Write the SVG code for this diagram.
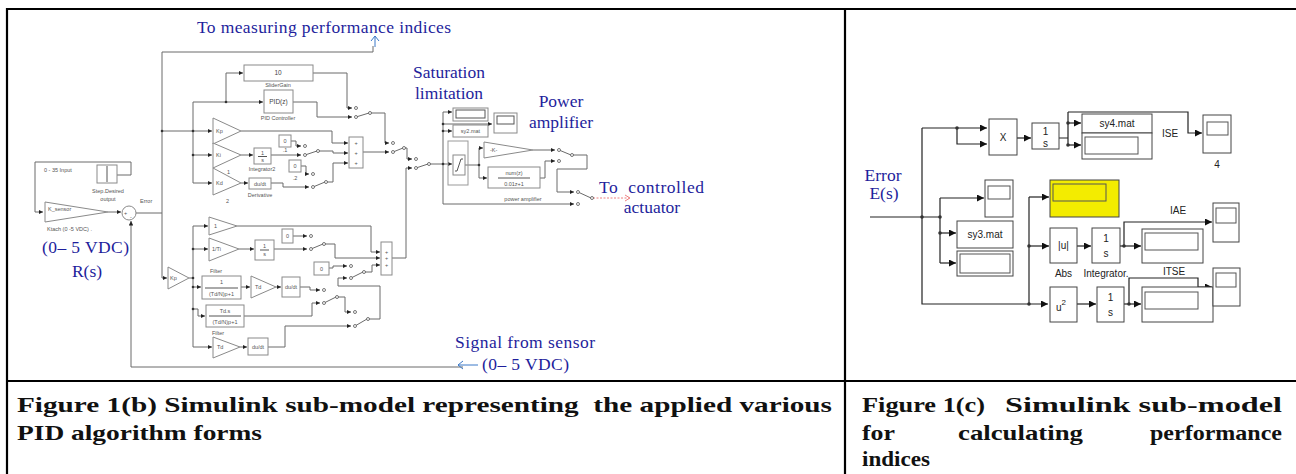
<svg xmlns="http://www.w3.org/2000/svg" width="1296" height="474" viewBox="0 0 1296 474">
<defs>
<marker id="a" viewBox="0 0 6 6" refX="6" refY="3" markerWidth="4.5" markerHeight="4.5" markerUnits="userSpaceOnUse" orient="auto"><path d="M0,0L6,3L0,6z" fill="#222"/></marker>
<marker id="A" viewBox="0 0 6 6" refX="6" refY="3" markerWidth="7" markerHeight="7" markerUnits="userSpaceOnUse" orient="auto"><path d="M0,0L6,3L0,6z" fill="#111"/></marker>
</defs>
<style>
.w{fill:none;stroke:#6a6a6a;stroke-width:1}
.wc{fill:none;stroke:#222;stroke-width:1.2}
.b{fill:#fff;stroke:#8a8a8a;stroke-width:1}
.bc{fill:#fff;stroke:#444;stroke-width:1}
.in{fill:none;stroke:#555;stroke-width:1}
.s{font-family:"Liberation Sans",Arial,sans-serif;font-size:5.5px;fill:#555}
.sm{font-family:"Liberation Sans",Arial,sans-serif;font-size:6.5px;fill:#444;text-anchor:middle}
.c{font-family:"Liberation Sans",Arial,sans-serif;font-size:10px;fill:#222;text-anchor:middle}
.bl{font-family:"Liberation Serif","Times New Roman",serif;font-size:17.5px;fill:#1e1e9c}
.cap{font-family:"Liberation Serif","Times New Roman",serif;font-size:21px;font-weight:bold;fill:#111;white-space:pre}
.sw{fill:#fff;stroke:#555;stroke-width:0.8}
.d{fill:#333}
.tb{stroke:#000;stroke-width:2.2;fill:none}
</style>
<rect width="1296" height="474" fill="#fff"/>

<g id="table">
<path class="tb" d="M6,9H1296M7,8V474M845,9V474M7,381H1296"/>
</g>

<g id="connectors">
<!-- panel b upper -->
<path class="w" d="M136,213H162"/>
<path class="w" d="M162,52V278H167" marker-end="url(#a)"/>
<path class="w" d="M162,52H373V46"/>
<path class="w" d="M162,131H212" marker-end="url(#a)"/>
<path class="w" d="M193,102V183"/>
<path class="w" d="M193,102H263" marker-end="url(#a)"/>
<path class="w" d="M226,102V73H243" marker-end="url(#a)"/>
<path class="w" d="M193,155H212" marker-end="url(#a)"/>
<path class="w" d="M193,183H212" marker-end="url(#a)"/>
<path class="w" d="M313,73H347V108H352" marker-end="url(#a)"/>
<path class="w" d="M293,102H317V117H352" marker-end="url(#a)"/>
<path class="w" d="M356,117L369,113M370,113H385V143H389" marker-end="url(#a)"/>
<path class="w" d="M241,131H332V143H348" marker-end="url(#a)"/>
<path class="w" d="M241,155H253" marker-end="url(#a)"/>
<path class="w" d="M271,155H301" marker-end="url(#a)"/>
<path class="w" d="M291,141H296V146H301" marker-end="url(#a)"/>
<path class="w" d="M305,155L317,151M318,151H333V153H348" marker-end="url(#a)"/>
<path class="w" d="M241,183H248" marker-end="url(#a)"/>
<path class="w" d="M271,183H283V187H309" marker-end="url(#a)"/>
<path class="w" d="M300,166H306V174H309" marker-end="url(#a)"/>
<path class="w" d="M313,187L325,182M326,182H333V163H348" marker-end="url(#a)"/>
<path class="w" d="M363,152H389" marker-end="url(#a)"/>
<path class="w" d="M393,152L403,148M404,148H407V159H412" marker-end="url(#a)"/>
<path class="w" d="M392,258H406V168H412" marker-end="url(#a)"/>
<path class="w" d="M416,168L428,164M429,164H452" marker-end="url(#a)"/>
<path class="w" d="M443,112V204H574" marker-end="url(#a)"/>
<path class="w" d="M443,112H452" marker-end="url(#a)"/>
<path class="w" d="M443,124H492" marker-end="url(#a)"/>
<path class="w" d="M443,131H452" marker-end="url(#a)"/>
<path class="w" d="M465,165H479M479,148V178"/>
<path class="w" d="M479,148H483" marker-end="url(#a)"/>
<path class="w" d="M479,178H487" marker-end="url(#a)"/>
<path class="w" d="M533,150H555" marker-end="url(#a)"/>
<path class="w" d="M540,178H545V161H555" marker-end="url(#a)"/>
<path class="w" d="M559,150L571,155M572,155H587V169H557V192H574" marker-end="url(#a)"/>
<path class="w" d="M578,192L591,198"/>
<path d="M593,198H629" fill="none" stroke="#ee8080" stroke-width="1" stroke-dasharray="2,1.5"/>
<path d="M625,195L630,198L625,201" fill="none" stroke="#ee8080" stroke-width="1"/>
<!-- left -->
<path class="w" d="M117,175H131V162H35V212H43" marker-end="url(#a)"/>
<path class="w" d="M108,212H121" marker-end="url(#a)"/>
<path class="w" d="M463,367H131V221" marker-end="url(#a)"/>
<!-- panel b lower -->
<path class="w" d="M189,278H193M193,226V347"/>
<path class="w" d="M193,226H208" marker-end="url(#a)"/>
<path class="w" d="M193,249H208" marker-end="url(#a)"/>
<path class="w" d="M193,287H201" marker-end="url(#a)"/>
<path class="w" d="M193,309H198V316H205" marker-end="url(#a)"/>
<path class="w" d="M193,347H212" marker-end="url(#a)"/>
<path class="w" d="M239,249H254" marker-end="url(#a)"/>
<path class="w" d="M274,249H307" marker-end="url(#a)"/>
<path class="w" d="M293,236H307" marker-end="url(#a)"/>
<path class="w" d="M311,249L323,244M324,244H335V258H380" marker-end="url(#a)"/>
<path class="w" d="M237,226H371V252H380" marker-end="url(#a)"/>
<path class="w" d="M329,268H333V266H347" marker-end="url(#a)"/>
<path class="w" d="M351,278L363,272M364,272H372V265H380" marker-end="url(#a)"/>
<path class="w" d="M368,319H380V286H338V278H347" marker-end="url(#a)"/>
<path class="w" d="M241,287H250" marker-end="url(#a)"/>
<path class="w" d="M276,287H281" marker-end="url(#a)"/>
<path class="w" d="M300,287H310V290H320" marker-end="url(#a)"/>
<path class="w" d="M244,316H312V303H320" marker-end="url(#a)"/>
<path class="w" d="M324,303L336,297M337,297H345V312H351" marker-end="url(#a)"/>
<path class="w" d="M355,326L367,319"/>
<path class="w" d="M240,347H247" marker-end="url(#a)"/>
<path class="w" d="M268,347H285V326H351" marker-end="url(#a)"/>
<!-- panel c -->
<path class="wc" d="M870,217H940"/>
<path class="wc" d="M922,128V304H1048" marker-end="url(#A)"/>
<path class="wc" d="M922,128H987" marker-end="url(#A)"/>
<path class="wc" d="M957,128V144H987" marker-end="url(#A)"/>
<path class="wc" d="M1017,138H1031" marker-end="url(#A)"/>
<path class="wc" d="M1059,138H1068M1068,112V145"/>
<path class="wc" d="M1068,123H1081" marker-end="url(#A)"/>
<path class="wc" d="M1068,145H1081" marker-end="url(#A)"/>
<path class="wc" d="M1068,112H1188V133H1202" marker-end="url(#A)"/>
<path class="wc" d="M940,198V263"/>
<path class="wc" d="M940,198H984" marker-end="url(#A)"/>
<path class="wc" d="M940,233H956" marker-end="url(#A)"/>
<path class="wc" d="M940,263H956" marker-end="url(#A)"/>
<path class="wc" d="M1029,197V304"/>
<path class="wc" d="M1029,197H1049" marker-end="url(#A)"/>
<path class="wc" d="M1029,246H1049" marker-end="url(#A)"/>
<path class="wc" d="M1077,246H1091" marker-end="url(#A)"/>
<path class="wc" d="M1120,246H1141" marker-end="url(#A)"/>
<path class="wc" d="M1124,246V222H1212" marker-end="url(#A)"/>
<path class="wc" d="M1077,304H1096" marker-end="url(#A)"/>
<path class="wc" d="M1124,304H1141" marker-end="url(#A)"/>
<path class="wc" d="M1129,304V278H1198V287H1212" marker-end="url(#A)"/>
<!-- junction dots -->
<g class="d">
<circle cx="162" cy="131" r="1.3"/><circle cx="193" cy="131" r="1.3"/><circle cx="193" cy="155" r="1.3"/><circle cx="226" cy="102" r="1.3"/>
<circle cx="443" cy="124" r="1.3"/><circle cx="443" cy="131" r="1.3"/><circle cx="443" cy="164" r="1.3"/><circle cx="479" cy="165" r="1.3"/>
<circle cx="193" cy="249" r="1.3"/><circle cx="193" cy="278" r="1.3"/><circle cx="193" cy="287" r="1.3"/><circle cx="193" cy="309" r="1.3"/>
<circle cx="922" cy="217" r="1.8"/><circle cx="957" cy="128" r="1.8"/><circle cx="940" cy="217" r="1.8"/><circle cx="940" cy="233" r="1.8"/>
<circle cx="1068" cy="123" r="1.8"/><circle cx="1068" cy="145" r="1.8"/><circle cx="1029" cy="246" r="1.8"/><circle cx="1029" cy="304" r="1.8"/>
<circle cx="1124" cy="246" r="1.8"/><circle cx="1129" cy="304" r="1.8"/>
</g>
<!-- switch contact circles -->
<g class="sw">
<circle cx="356" cy="108" r="1.5"/><circle cx="356" cy="117" r="1.5"/><circle cx="370" cy="113" r="1.5"/>
<circle cx="305" cy="146" r="1.5"/><circle cx="305" cy="155" r="1.5"/><circle cx="318" cy="151" r="1.5"/>
<circle cx="313" cy="174" r="1.5"/><circle cx="313" cy="187" r="1.5"/><circle cx="326" cy="182" r="1.5"/>
<circle cx="393" cy="143" r="1.5"/><circle cx="393" cy="152" r="1.5"/><circle cx="404" cy="148" r="1.5"/>
<circle cx="416" cy="159" r="1.5"/><circle cx="416" cy="168" r="1.5"/><circle cx="429" cy="164" r="1.5"/>
<circle cx="559" cy="150" r="1.5"/><circle cx="559" cy="161" r="1.5"/><circle cx="572" cy="155" r="1.5"/>
<circle cx="578" cy="192" r="1.5"/><circle cx="578" cy="204" r="1.5"/><circle cx="592" cy="198" r="1.5"/>
<circle cx="311" cy="236" r="1.5"/><circle cx="311" cy="249" r="1.5"/><circle cx="324" cy="244" r="1.5"/>
<circle cx="351" cy="266" r="1.5"/><circle cx="351" cy="278" r="1.5"/><circle cx="364" cy="272" r="1.5"/>
<circle cx="324" cy="290" r="1.5"/><circle cx="324" cy="303" r="1.5"/><circle cx="337" cy="297" r="1.5"/>
<circle cx="355" cy="312" r="1.5"/><circle cx="355" cy="326" r="1.5"/><circle cx="368" cy="319" r="1.5"/>
</g>
</g>

<!-- blue annotations -->
<g id="annotations">
<text class="bl" x="197" y="33" textLength="254">To measuring performance indices</text>
<path d="M375,47V36M371,41L375,36L379,41" fill="none" stroke="#3a78c8" stroke-width="1"/>
<text class="bl" x="449" y="78" text-anchor="middle">Saturation</text>
<text class="bl" x="449" y="99" text-anchor="middle">limitation</text>
<text class="bl" x="561" y="107" text-anchor="middle">Power</text>
<text class="bl" x="561" y="128" text-anchor="middle">amplifier</text>
<text class="bl" x="599" y="193" textLength="105" style="white-space:pre">To  controlled</text>
<text class="bl" x="652" y="213" text-anchor="middle">actuator</text>
<text class="bl" x="42" y="253" textLength="87">(0– 5 VDC)</text>
<text class="bl" x="87" y="277" text-anchor="middle">R(s)</text>
<text class="bl" x="455" y="348" textLength="140">Signal from sensor</text>
<text class="bl" x="482" y="370" textLength="87">(0– 5 VDC)</text>
<path d="M478,365H458M463,361L458,365L463,369" fill="none" stroke="#3a78c8" stroke-width="1"/>
<text class="bl" x="883" y="181" text-anchor="middle" font-size="15">Error</text>
<text class="bl" x="884" y="199" text-anchor="middle" font-size="15">E(s)</text>
</g>

<!-- panel b nodes -->
<g id="step">
<rect class="b" x="97" y="165" width="20" height="18"/>
<path class="in" d="M107,166V182"/>
<text class="s" x="44" y="172">0 - 35  Input</text>
<text class="s" x="108" y="193" text-anchor="middle">Step.Desired</text>
<text class="s" x="108" y="201" text-anchor="middle">output</text>
</g>
<g id="ksensor">
<path class="b" d="M45,202L108,212L45,222z"/>
<text class="s" x="48" y="211">K_sensor</text>
<text class="s" x="47" y="231">Ktach  (0 -5 VDC) .</text>
</g>
<g id="sum-error">
<circle class="b" cx="129" cy="213" r="7"/>
<text class="s" x="124" y="215">+</text>
<text class="s" x="130" y="219">-</text>
<text class="s" x="140" y="203">Error</text>
</g>
<g id="slidergain">
<rect class="b" x="244" y="65" width="69" height="16"/>
<text class="sm" x="278" y="75">10</text>
<text class="s" x="278" y="87" text-anchor="middle">SliderGain</text>
</g>
<g id="pid">
<rect class="b" x="264" y="90" width="29" height="23"/>
<text class="sm" x="278.5" y="104">PID(z)</text>
<text class="s" x="278" y="120" text-anchor="middle">PID Controller</text>
</g>
<g id="kp">
<path class="b" d="M213,118L241,131L213,144z"/>
<text class="s" x="216" y="133">Kp</text>
</g>
<g id="ki">
<path class="b" d="M213,143L241,155L213,168z"/>
<text class="s" x="216" y="157">Ki</text>
<text class="s" x="227" y="174">1</text>
</g>
<g id="kd">
<path class="b" d="M213,168L241,183L213,195z"/>
<text class="s" x="216" y="185">Kd</text>
<text class="s" x="226" y="203">2</text>
</g>
<g id="integrator2">
<rect class="b" x="254" y="148" width="17" height="16"/>
<text class="s" x="262.5" y="155" text-anchor="middle">1</text>
<path class="in" d="M258,156.5H267" stroke-width="0.6"/>
<text class="s" x="262.5" y="162" text-anchor="middle">s</text>
<text class="s" x="262" y="171" text-anchor="middle">Integrator2</text>
</g>
<g id="derivative">
<rect class="b" x="249" y="178" width="22" height="11"/>
<text class="s" x="260" y="185.5" text-anchor="middle">du/dt</text>
<text class="s" x="260" y="197" text-anchor="middle">Derivative</text>
</g>
<g id="const1">
<rect class="b" x="279" y="135" width="12" height="12"/>
<text class="s" x="285" y="143" text-anchor="middle">0</text>
<text class="s" x="285" y="152" text-anchor="middle">.1</text>
</g>
<g id="const2">
<rect class="b" x="289" y="160" width="12" height="12"/>
<text class="s" x="295" y="168" text-anchor="middle">0</text>
<text class="s" x="295" y="180" text-anchor="middle">.2</text>
</g>
<g id="sum1">
<rect class="b" x="349" y="137" width="14" height="31"/>
<text class="s" x="356" y="145" text-anchor="middle">+</text>
<text class="s" x="356" y="155" text-anchor="middle">+</text>
<text class="s" x="356" y="165" text-anchor="middle">+</text>
</g>
<g id="saturation">
<rect fill="none" stroke="#999" stroke-width="1" x="448" y="141" width="20" height="44"/>
<rect class="b" x="453" y="155" width="12" height="20"/>
<path class="in" d="M455,171H457L461,159H463" stroke-width="0.7"/>
</g>
<g id="display-sat">
<rect class="b" x="453" y="108" width="35" height="13" stroke="#666"/>
<rect class="in" x="456" y="110" width="29" height="8" stroke-width="0.7"/>
</g>
<g id="sy2mat">
<rect class="b" x="453" y="125" width="35" height="12" stroke="#666"/>
<text class="s" x="470.5" y="133" text-anchor="middle">sy2.mat</text>
</g>
<g id="scope-sat">
<rect class="b" x="494" y="113" width="23" height="20"/>
<rect class="in" x="497" y="116" width="17" height="8" stroke-width="0.7"/>
</g>
<g id="gain-k">
<path class="b" d="M484,142L533,150L484,158z"/>
<text class="s" x="490" y="152">-K-</text>
</g>
<g id="tf-num">
<rect class="b" x="488" y="167" width="52" height="21"/>
<text class="s" x="514" y="175" text-anchor="middle">num(z)</text>
<path class="in" d="M498,178H530" stroke-width="0.6"/>
<text class="s" x="514" y="185.5" text-anchor="middle">0.01z+1</text>
<text class="s" x="523" y="201" text-anchor="middle">power amplifier</text>
</g>
<g id="kp2">
<path class="b" d="M168,267L189,278L168,289z"/>
<text class="s" x="170" y="280">Kp</text>
</g>
<g id="gain1">
<path class="b" d="M209,217L237,226L209,235z"/>
<text class="s" x="214" y="228">1</text>
</g>
<g id="gain-ti">
<path class="b" d="M209,238L239,249L209,261z"/>
<text class="s" x="212" y="251">1/Ti</text>
</g>
<g id="int-p">
<rect class="b" x="255" y="240" width="19" height="20"/>
<text class="s" x="264.5" y="248" text-anchor="middle">1</text>
<path class="in" d="M260,250H269" stroke-width="0.6"/>
<text class="s" x="264.5" y="256" text-anchor="middle">s</text>
</g>
<g id="const3">
<rect class="b" x="282" y="229" width="11" height="14"/>
<text class="s" x="287.5" y="238" text-anchor="middle">0</text>
</g>
<g id="const4">
<rect class="b" x="314" y="262" width="15" height="13"/>
<text class="s" x="321.5" y="270.5" text-anchor="middle">0</text>
</g>
<g id="sum2">
<rect class="b" x="381" y="242" width="11" height="33"/>
<text class="s" x="386.5" y="254" text-anchor="middle">+</text>
<text class="s" x="386.5" y="260" text-anchor="middle">+</text>
<text class="s" x="386.5" y="267" text-anchor="middle">+</text>
</g>
<g id="filter1">
<rect class="b" x="202" y="276" width="39" height="23"/>
<text class="s" x="221.5" y="284" text-anchor="middle">1</text>
<path class="in" d="M205,288H238" stroke-width="0.6"/>
<text class="s" x="221.5" y="296" text-anchor="middle">(Td/N)p+1</text>
<text class="s" x="216" y="273" text-anchor="middle">Filter</text>
</g>
<g id="td1">
<path class="b" d="M251,276L276,287L251,298z"/>
<text class="s" x="255" y="289">Td</text>
</g>
<g id="dudt1">
<rect class="b" x="282" y="277" width="18" height="20"/>
<text class="s" x="291" y="289" text-anchor="middle">du/dt</text>
</g>
<g id="filter2">
<rect class="b" x="206" y="305" width="38" height="22"/>
<text class="s" x="225" y="313" text-anchor="middle">Td.s</text>
<path class="in" d="M209,316H241" stroke-width="0.6"/>
<text class="s" x="225" y="324" text-anchor="middle">(Td/N)p+1</text>
</g>
<g id="td2">
<path class="b" d="M213,337L240,347L213,358z"/>
<text class="s" x="217" y="349">Td</text>
<text class="s" x="218" y="335" text-anchor="middle">Filter</text>
</g>
<g id="dudt2">
<rect class="b" x="248" y="338" width="20" height="17"/>
<text class="s" x="258" y="348.5" text-anchor="middle">du/dt</text>
</g>

<!-- panel c nodes -->
<g id="product">
<rect class="bc" x="989" y="119" width="28" height="36"/>
<text class="c" x="1003" y="141" font-size="11">X</text>
</g>
<g id="int-ise">
<rect class="bc" x="1032" y="123" width="27" height="26"/>
<text class="c" x="1045.5" y="135" font-size="9">1</text>
<text class="c" x="1045.5" y="147" font-size="9">s</text>
</g>
<g id="sy4mat">
<rect class="bc" x="1082" y="114" width="70" height="19"/>
<text class="c" x="1117" y="127" font-size="11">sy4.mat</text>
</g>
<g id="display-ise">
<rect class="bc" x="1082" y="133" width="70" height="26"/>
<rect class="in" x="1085" y="137" width="53" height="17" stroke="#333"/>
<text class="c" x="1170" y="137">ISE</text>
</g>
<g id="scope-ise">
<rect class="bc" x="1203" y="115" width="28" height="38"/>
<rect class="in" x="1207" y="122" width="21" height="13" stroke="#333"/>
<text class="c" x="1217" y="168" font-size="9">4</text>
</g>
<g id="scope-e">
<rect class="bc" x="985" y="180" width="28" height="37"/>
<rect class="in" x="988" y="186" width="22" height="13" stroke="#333"/>
</g>
<g id="sy3mat">
<rect class="bc" x="957" y="221" width="56" height="27"/>
<text class="c" x="985" y="238" font-size="9">sy3.mat</text>
</g>
<g id="display-e">
<rect class="bc" x="957" y="251" width="56" height="25"/>
<rect class="in" x="960" y="254" width="50" height="19" stroke="#333"/>
</g>
<g id="display-yellow">
<rect x="1050" y="180" width="69" height="37" fill="#f3ec00" stroke="#444" stroke-width="1"/>
<rect class="in" x="1053" y="184" width="53" height="17" stroke="#333"/>
</g>
<g id="abs">
<rect class="bc" x="1050" y="228" width="27" height="35"/>
<text class="c" x="1063.5" y="249">|u|</text>
<text class="c" x="1063.5" y="277" font-size="9">Abs</text>
</g>
<g id="int-iae">
<rect class="bc" x="1092" y="228" width="28" height="35"/>
<text class="c" x="1106" y="242" font-size="9">1</text>
<text class="c" x="1106" y="257" font-size="9">s</text>
<text class="c" x="1106" y="277" font-size="9">Integrator.</text>
</g>
<g id="display-iae">
<rect class="bc" x="1142" y="229" width="61" height="34"/>
<rect class="in" x="1145" y="233" width="53" height="17" stroke="#333"/>
<text class="c" x="1178" y="214">IAE</text>
</g>
<g id="scope-iae">
<rect class="bc" x="1213" y="203" width="26" height="39"/>
<rect class="in" x="1216" y="208" width="20" height="15" stroke="#333"/>
</g>
<g id="square">
<rect class="bc" x="1050" y="287" width="27" height="35"/>
<text class="c" x="1061" y="311">u<tspan font-size="8" dy="-6">2</tspan></text>
</g>
<g id="int-itse">
<rect class="bc" x="1097" y="287" width="27" height="35"/>
<text class="c" x="1110.5" y="301" font-size="9">1</text>
<text class="c" x="1110.5" y="316" font-size="9">s</text>
</g>
<g id="display-itse">
<rect class="bc" x="1142" y="287" width="71" height="35"/>
<rect class="in" x="1145" y="292" width="53" height="17" stroke="#333"/>
<text class="c" x="1174" y="275">ITSE</text>
</g>
<g id="scope-itse">
<rect class="bc" x="1213" y="268" width="27" height="38"/>
<rect class="in" x="1216" y="273" width="20" height="14" stroke="#333"/>
</g>

<!-- captions -->
<g id="captions">
<text class="cap" x="17" y="412" textLength="815" lengthAdjust="spacingAndGlyphs">Figure 1(b) Simulink sub-model representing  the applied various</text>
<text class="cap" x="17" y="440" textLength="245" lengthAdjust="spacingAndGlyphs">PID algorithm forms</text>
<text class="cap" y="412"><tspan x="862" textLength="123" lengthAdjust="spacingAndGlyphs">Figure 1(c)</tspan><tspan x="1005" textLength="277" lengthAdjust="spacingAndGlyphs">Simulink sub-model</tspan></text>
<text class="cap" y="440"><tspan x="862" textLength="33" lengthAdjust="spacingAndGlyphs">for</tspan><tspan x="958" textLength="125" lengthAdjust="spacingAndGlyphs">calculating</tspan><tspan x="1150" textLength="132" lengthAdjust="spacingAndGlyphs">performance</tspan></text>
<text class="cap" x="862" y="466" textLength="68" lengthAdjust="spacingAndGlyphs">indices</text>
</g>
</svg>
